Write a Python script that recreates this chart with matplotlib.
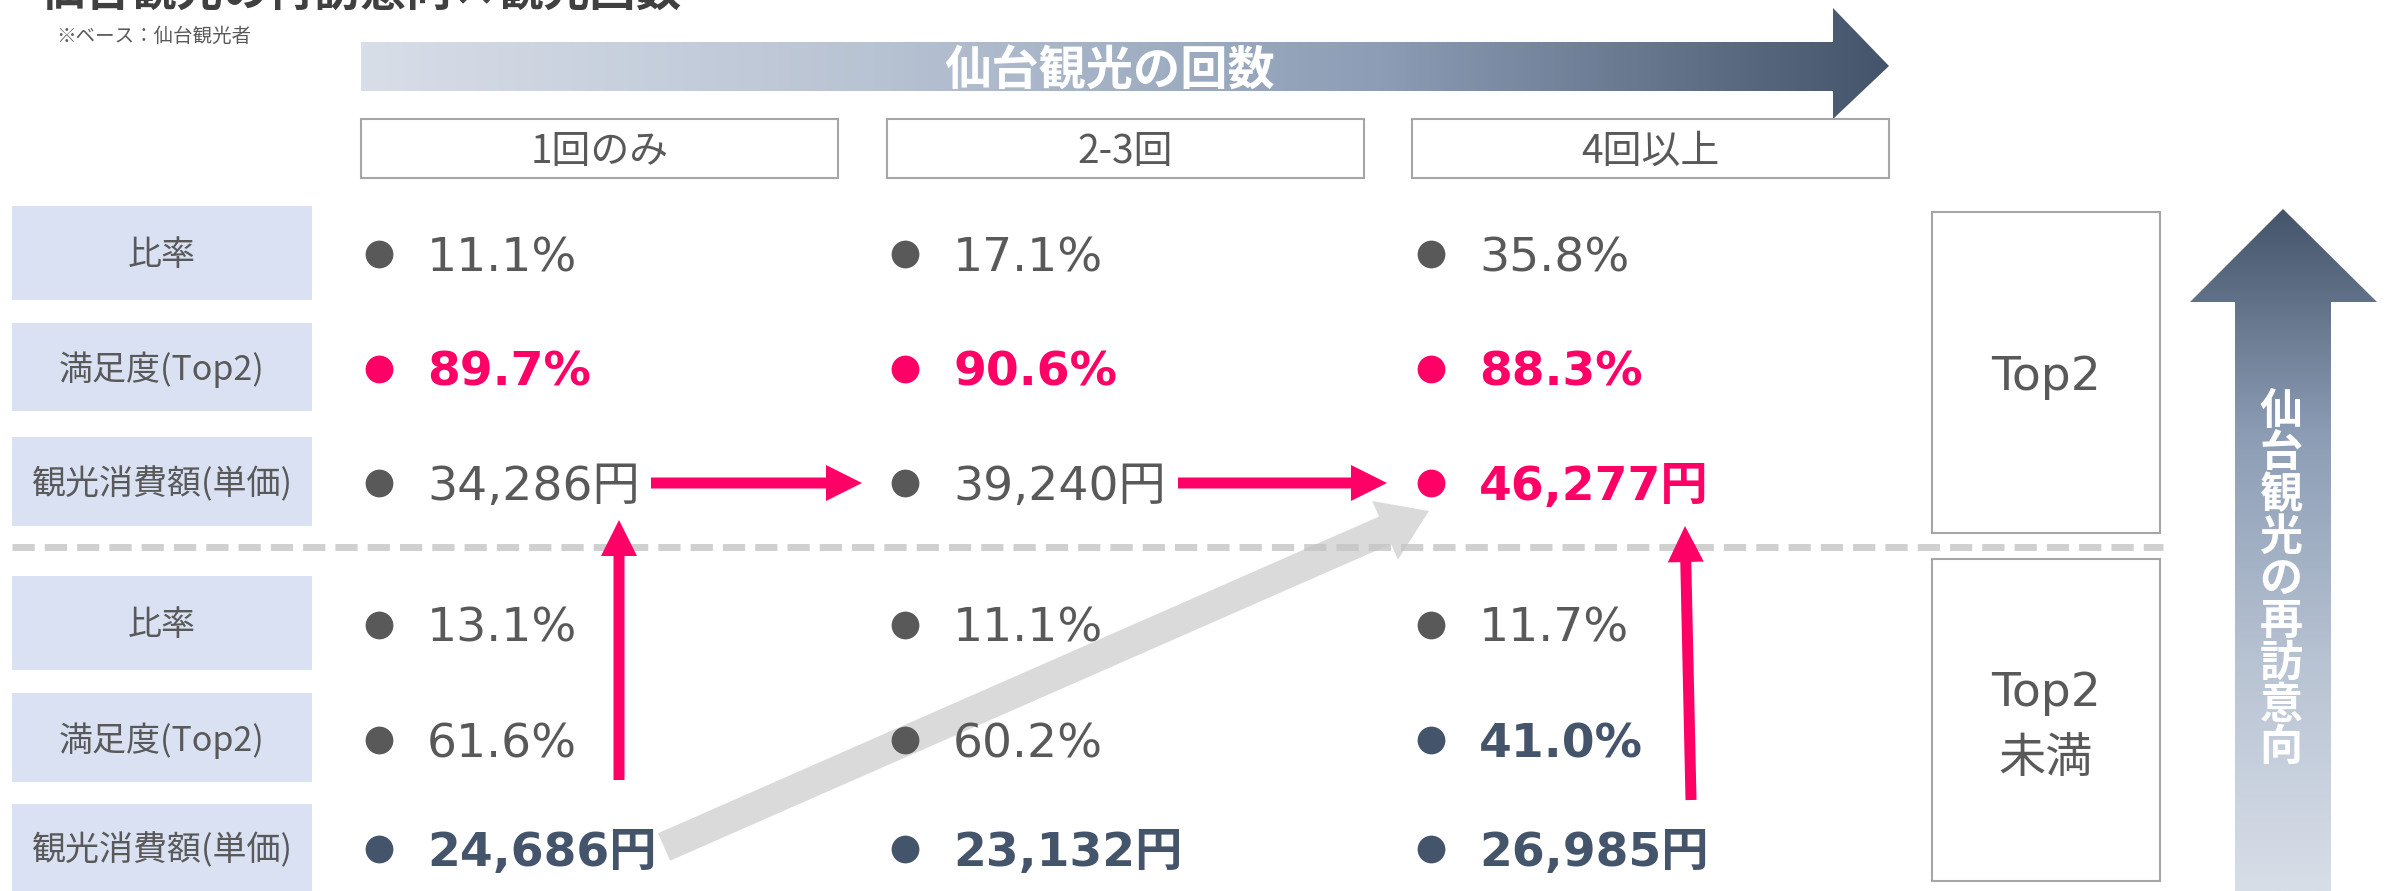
import matplotlib.pyplot as plt
import numpy as np
from matplotlib.colors import LinearSegmentedColormap
from matplotlib.patches import Rectangle, Polygon, FancyArrow

plt.rcParams['font.family'] = ['Noto Sans CJK JP', 'DejaVu Sans']

title = '仙台観光の再訪意向×観光回数'
note = '※ベース：仙台観光者'
visit_label = '仙台観光の回数'
revisit_label = '仙台観光の再訪意向'
columns = ['1回のみ', '2-3回', '4回以上']
row_labels = ['比率', '満足度(Top2)', '観光消費額(単価)']
group_labels = [['Top2'], ['Top2', '未満']]

# 再訪意向 Top2
top_ratio = [11.1, 17.1, 35.8]
top_satisfaction = [89.7, 90.6, 88.3]
top_spend = [34286, 39240, 46277]
# 再訪意向 Top2未満
low_ratio = [13.1, 11.1, 11.7]
low_satisfaction = [61.6, 60.2, 41.0]
low_spend = [24686, 23132, 26985]

# 強調: n=通常, p=ピンク太字, d=紺太字
top_style = [['n', 'n', 'n'], ['p', 'p', 'p'], ['n', 'n', 'p']]
low_style = [['n', 'n', 'n'], ['n', 'n', 'd'], ['d', 'd', 'd']]

GRAY = '#595959'
PINK = '#ff0066'
NAVY = '#44546a'
LABEL_BG = '#d9e1f2'
BOX_EDGE = '#a6a6a6'
styles = {'n': (GRAY, 'normal'), 'p': (PINK, 'bold'), 'd': (NAVY, 'bold')}

W, H = 2389, 891
fig = plt.figure(figsize=(W / 100, H / 100), dpi=100)
ax = fig.add_axes([0, 0, 1, 1])

# レイアウト (ピクセル座標)
dot_x = [379, 905, 1431]
row_y = [254, 369, 483, 625, 740, 849]
label_rows = [(206, 300), (323, 411), (437, 526), (576, 670), (693, 782), (804, 891)]
col_box_x = [361, 887, 1412]
col_box_w = 477

# タイトル (上端で切れている)
ax.text(39, 6, title, fontsize=33, fontweight='bold', color='#404040', va='baseline', ha='left')
ax.text(56, 36, note, fontsize=14, color=GRAY, va='center', ha='left')

# 横向きグラデーション矢印
cmap_h = LinearSegmentedColormap.from_list('h', ['#d8dee8', '#b8c3d3', '#8c9db5', '#44546a'])
hx0, hx1, hx2 = 361, 1833, 1889
hy0, hy1, hmid = 42, 91, 66
harrow = Polygon([(hx0, hy0), (hx1, hy0), (hx1, 8), (hx2, hmid), (hx1, 119), (hx1, hy1), (hx0, hy1)],
                 closed=True, fc='none', ec='none')
ax.add_patch(harrow)
grad = np.linspace(0, 1, 256).reshape(1, -1)
im = ax.imshow(grad, cmap=cmap_h, extent=(hx0, hx2, 119, 8), aspect='auto', origin='upper', zorder=1)
im.set_clip_path(harrow)
ax.text(1110, 72, visit_label, fontsize=34, fontweight='bold', color='white',
        ha='center', va='center', zorder=3)

# 列見出し
for x, name in zip(col_box_x, columns):
    ax.add_patch(Rectangle((x, 119), col_box_w, 59, fc='white', ec=BOX_EDGE, lw=1.5))
    ax.text(x + col_box_w / 2, 152, name, fontsize=28, color=GRAY, ha='center', va='center')

# 行ラベル
for (y0, y1), name in zip(label_rows, row_labels * 2):
    ax.add_patch(Rectangle((12, y0), 300, y1 - y0, fc=LABEL_BG, ec='none'))
    ax.text(162, (y0 + y1) / 2 + 3, name, fontsize=24.5, color=GRAY, ha='center', va='center')

# 区切り線
ax.plot([12, 2163], [547, 547], color='#d0d0d0', lw=5, dashes=(3.2, 1.45), zorder=2)

# 値
def fmt_pct(v):
    return f'{v:.1f}%'

def fmt_yen(v):
    return f'{v:,}円'

blocks = [
    (top_ratio, fmt_pct), (top_satisfaction, fmt_pct), (top_spend, fmt_yen),
    (low_ratio, fmt_pct), (low_satisfaction, fmt_pct), (low_spend, fmt_yen),
]
all_styles = top_style + low_style
for r, ((vals, fmt), st_row) in enumerate(zip(blocks, all_styles)):
    for c, v in enumerate(vals):
        color, weight = styles[st_row[c]]
        ax.plot(dot_x[c], row_y[r], 'o', ms=20, color=color, mec='none', zorder=6)
        ax.text(dot_x[c] + 48, row_y[r] + 17, fmt(v), fontsize=34, fontweight=weight, color=color,
                family=['DejaVu Sans', 'Noto Sans CJK JP'], ha='left', va='baseline', zorder=6)

# 灰色の矢印
ax.add_patch(FancyArrow(dot_x[0] + 285, row_y[5] - 2, (dot_x[2] - 2) - (dot_x[0] + 285), (row_y[2] + 28) - (row_y[5] - 2),
                        width=30, head_width=64, head_length=48, length_includes_head=True,
                        fc='#c4c4c4', ec='none', alpha=0.62, zorder=3))

# ピンクの矢印
pink_kw = dict(width=11, head_width=36, head_length=36, length_includes_head=True, fc=PINK, ec='none', zorder=5)
ax.add_patch(FancyArrow(dot_x[0] + 272, row_y[2], (dot_x[1] - 43) - (dot_x[0] + 272), 0, **pink_kw))
ax.add_patch(FancyArrow(dot_x[1] + 273, row_y[2], (dot_x[2] - 44) - (dot_x[1] + 273), 0, **pink_kw))
ax.add_patch(FancyArrow(dot_x[0] + 240, row_y[5] - 69, 0, (row_y[2] + 37) - (row_y[5] - 69), **pink_kw))
ax.add_patch(FancyArrow(dot_x[2] + 260, row_y[5] - 49, -6, (row_y[2] + 43) - (row_y[5] - 49), **pink_kw))

# 右側の区分ボックス
for (y0, y1), lines, ys in zip([(212, 533), (559, 881)], group_labels, [[378], [694, 760]]):
    ax.add_patch(Rectangle((1932, y0), 228, y1 - y0, fc='white', ec=BOX_EDGE, lw=1.5))
    for line, ty in zip(lines, ys):
        ax.text(2046, ty, line, fontsize=34, color=GRAY, ha='center', va='center',
                family=['DejaVu Sans', 'Noto Sans CJK JP'])

# 縦向きグラデーション矢印
cmap_v = LinearSegmentedColormap.from_list('v', ['#44546a', '#8c9db5', '#b8c3d3', '#d8dee8'])
vx0, vx1 = 2235, 2331
varrow = Polygon([(vx0, H), (vx0, 302), (2190, 302), ((vx0 + vx1) / 2, 209), (2377, 302), (vx1, 302), (vx1, H)],
                 closed=True, fc='none', ec='none')
ax.add_patch(varrow)
vgrad = np.linspace(0, 1, 256).reshape(-1, 1)
im2 = ax.imshow(vgrad, cmap=cmap_v, extent=(2190, 2377, H, 209), aspect='auto', origin='upper', zorder=1)
im2.set_clip_path(varrow)
for i, ch in enumerate(revisit_label):
    ax.text(2281, 411 + 42 * i, ch, fontsize=31, fontweight='bold', color='white',
            ha='center', va='center', zorder=3)

ax.set_xlim(0, W)
ax.set_ylim(H, 0)
ax.axis('off')

fig.savefig('out.png', dpi=100, facecolor='white')
